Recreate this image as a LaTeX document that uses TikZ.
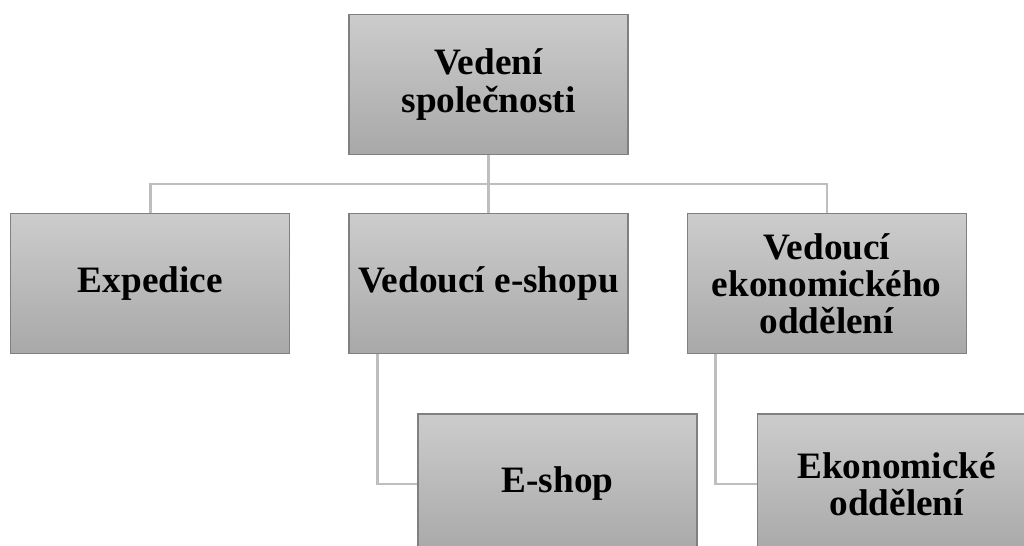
\documentclass[tikz,border=0pt]{standalone}
\usepackage{fontspec}
\setmainfont{Liberation Serif}
\usetikzlibrary{positioning}

\begin{document}
\begin{tikzpicture}[node distance=1.16cm]
  \tikzstyle{unit}=[draw={rgb,255:red,128;green,128;blue,128}, line width=0.7pt,
    top color=black!20, bottom color=black!34, align=center,
    minimum width=5.58cm, minimum height=2.8cm, inner sep=2pt,
    font=\fontsize{21.2}{21.2}\selectfont\bfseries]
  \tikzstyle{conn}=[draw={rgb,255:red,190;green,190;blue,190}, line width=1.4pt]
  \useasboundingbox (0,0) rectangle (20.48,-10.9);

  \node[unit] (vedeni) at (9.77,-1.69) {Vedení\\společnosti};
  \node[unit] (veshop) [below=of vedeni] {Vedoucí e-shopu};
  \node[unit] (expedice) [left=of veshop] {Expedice};
  \node[unit] (vekonom) [right=of veshop] {Vedoucí\\ekonomického\\oddělení};
  \node[unit] (eshop) [below=1.18cm of veshop, xshift=1.38cm] {E-shop};
  \node[unit] (ekonom) [below=1.18cm of vekonom, xshift=1.4cm] {Ekonomické\\oddělení};

\draw[conn] (vedeni.south) -- ++(0,-0.58) -| (expedice.north);
\draw[conn] (vedeni.south) -- (veshop.north);
\draw[conn] (vedeni.south) -- ++(0,-0.58) -| (vekonom.north);
\draw[conn] ([xshift=0.58cm]veshop.south west) |- (eshop.west);
\draw[conn] ([xshift=0.58cm]vekonom.south west) |- (ekonom.west);
\end{tikzpicture}
\end{document}
